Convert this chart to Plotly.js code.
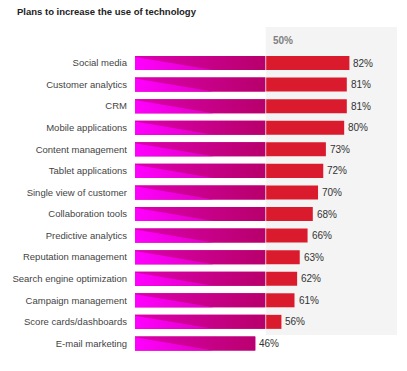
<!DOCTYPE html>
<html>
<head>
<meta charset="utf-8">
<script src="https://cdn.plot.ly/plotly-3.0.1.min.js"></script>
<style>html,body{margin:0;padding:0;background:#fff;}#chart{width:407px;height:371px;}</style>
</head>
<body>
<div id="chart"></div>
<script>
const categories = [
  "Social media", "Customer analytics", "CRM", "Mobile applications",
  "Content management", "Tablet applications", "Single view of customer",
  "Collaboration tools", "Predictive analytics", "Reputation management",
  "Search engine optimization", "Campaign management", "Score cards/dashboards",
  "E-mail marketing"
];
const values = [82, 81, 81, 80, 73, 72, 70, 68, 66, 63, 62, 61, 56, 46];
const midpoint = 50;
const midLabel = "50%";
const titleText = "Plans to increase the use of technology";

const idx = categories.map((_, i) => i);
const half = 0.325;
const triW = 30;
const leftLen = values.map(v => Math.min(v, midpoint));
const rightLen = values.map(v => v > midpoint ? v - midpoint : 0);

// gradient polygons over magenta part
const gx = [], gy = [], tx = [], ty = [];
leftLen.forEach((m, i) => {
  gx.push(0, m, m, 0, 0, null);
  gy.push(i - half, i - half, i + half, i + half, i - half, null);
  tx.push(0, Math.min(triW, m), 0, 0, null);
  ty.push(i - half + 0.04, i + half, i + half, i - half + 0.04, null);
});

const traces = [
  {type: 'bar', orientation: 'h', x: leftLen, y: idx, width: 0.65,
   marker: {color: '#c6008a', line: {width: 0}}, hoverinfo: 'skip', showlegend: false},
  {type: 'bar', orientation: 'h', x: rightLen, y: idx, base: midpoint, width: 0.65,
   marker: {color: '#da1a2d', line: {width: 0}}, hoverinfo: 'skip', showlegend: false},
  {type: 'scatter', mode: 'none', x: gx, y: gy, fill: 'toself',
   fillgradient: {type: 'horizontal', colorscale: [[0, '#dc00b0'], [1, '#b7006a']]},
   hoverinfo: 'skip', showlegend: false},
  {type: 'scatter', mode: 'none', x: tx, y: ty, fill: 'toself',
   fillgradient: {type: 'horizontal', colorscale: [[0, '#ff00ff'], [1, '#e000c0']]},
   hoverinfo: 'skip', showlegend: false}
];

const valueLabels = values.map((v, i) => ({
  xref: 'x', yref: 'y', x: v, y: i, text: v + '%', showarrow: false,
  xanchor: 'left', yanchor: 'middle', xshift: 2,
  font: {family: 'Liberation Sans, Arial, sans-serif', size: 10, color: '#333'}
}));

const layout = {
  width: 407, height: 371,
  margin: {l: 135, r: 10, t: 27, b: 6},
  paper_bgcolor: '#fff', plot_bgcolor: 'rgba(0,0,0,0)',
  barmode: 'overlay',
  title: {text: titleText, x: 17/407, xanchor: 'left', y: 1 - 12/371, yanchor: 'middle',
    font: {family: 'Liberation Sans, Arial, sans-serif', size: 9.5, color: '#222', weight: 'bold'}},
  xaxis: {range: [0, 100.2], visible: false, fixedrange: true},
  yaxis: {range: [14, -1.6705], tickvals: idx, ticktext: categories, showgrid: false,
    zeroline: false, showline: false, ticks: '', ticklabelstandoff: 7,
    tickfont: {family: 'Liberation Sans, Arial, sans-serif', size: 9.5, color: '#444'},
    fixedrange: true},
  shapes: [
    {type: 'rect', xref: 'x', yref: 'y', x0: midpoint, x1: 100.2, y0: -1.6705, y1: 12.61,
     fillcolor: '#f4f4f4', line: {width: 0}, layer: 'below'},
    {type: 'line', xref: 'x', yref: 'y', x0: midpoint, x1: midpoint, y0: -0.4, y1: 12.4,
     line: {color: 'rgba(255,255,255,0.75)', width: 1}, layer: 'above'}
  ],
  annotations: [
    {xref: 'x', yref: 'y', x: midpoint, y: -1.05, text: midLabel, showarrow: false,
     xanchor: 'left', xshift: 5, yanchor: 'middle',
     font: {family: 'Liberation Sans, Arial, sans-serif', size: 10, color: '#808080', weight: 'bold'}}
  ].concat(valueLabels)
};

Plotly.newPlot('chart', traces, layout, {staticPlot: true, displayModeBar: false});
</script>
</body>
</html>
